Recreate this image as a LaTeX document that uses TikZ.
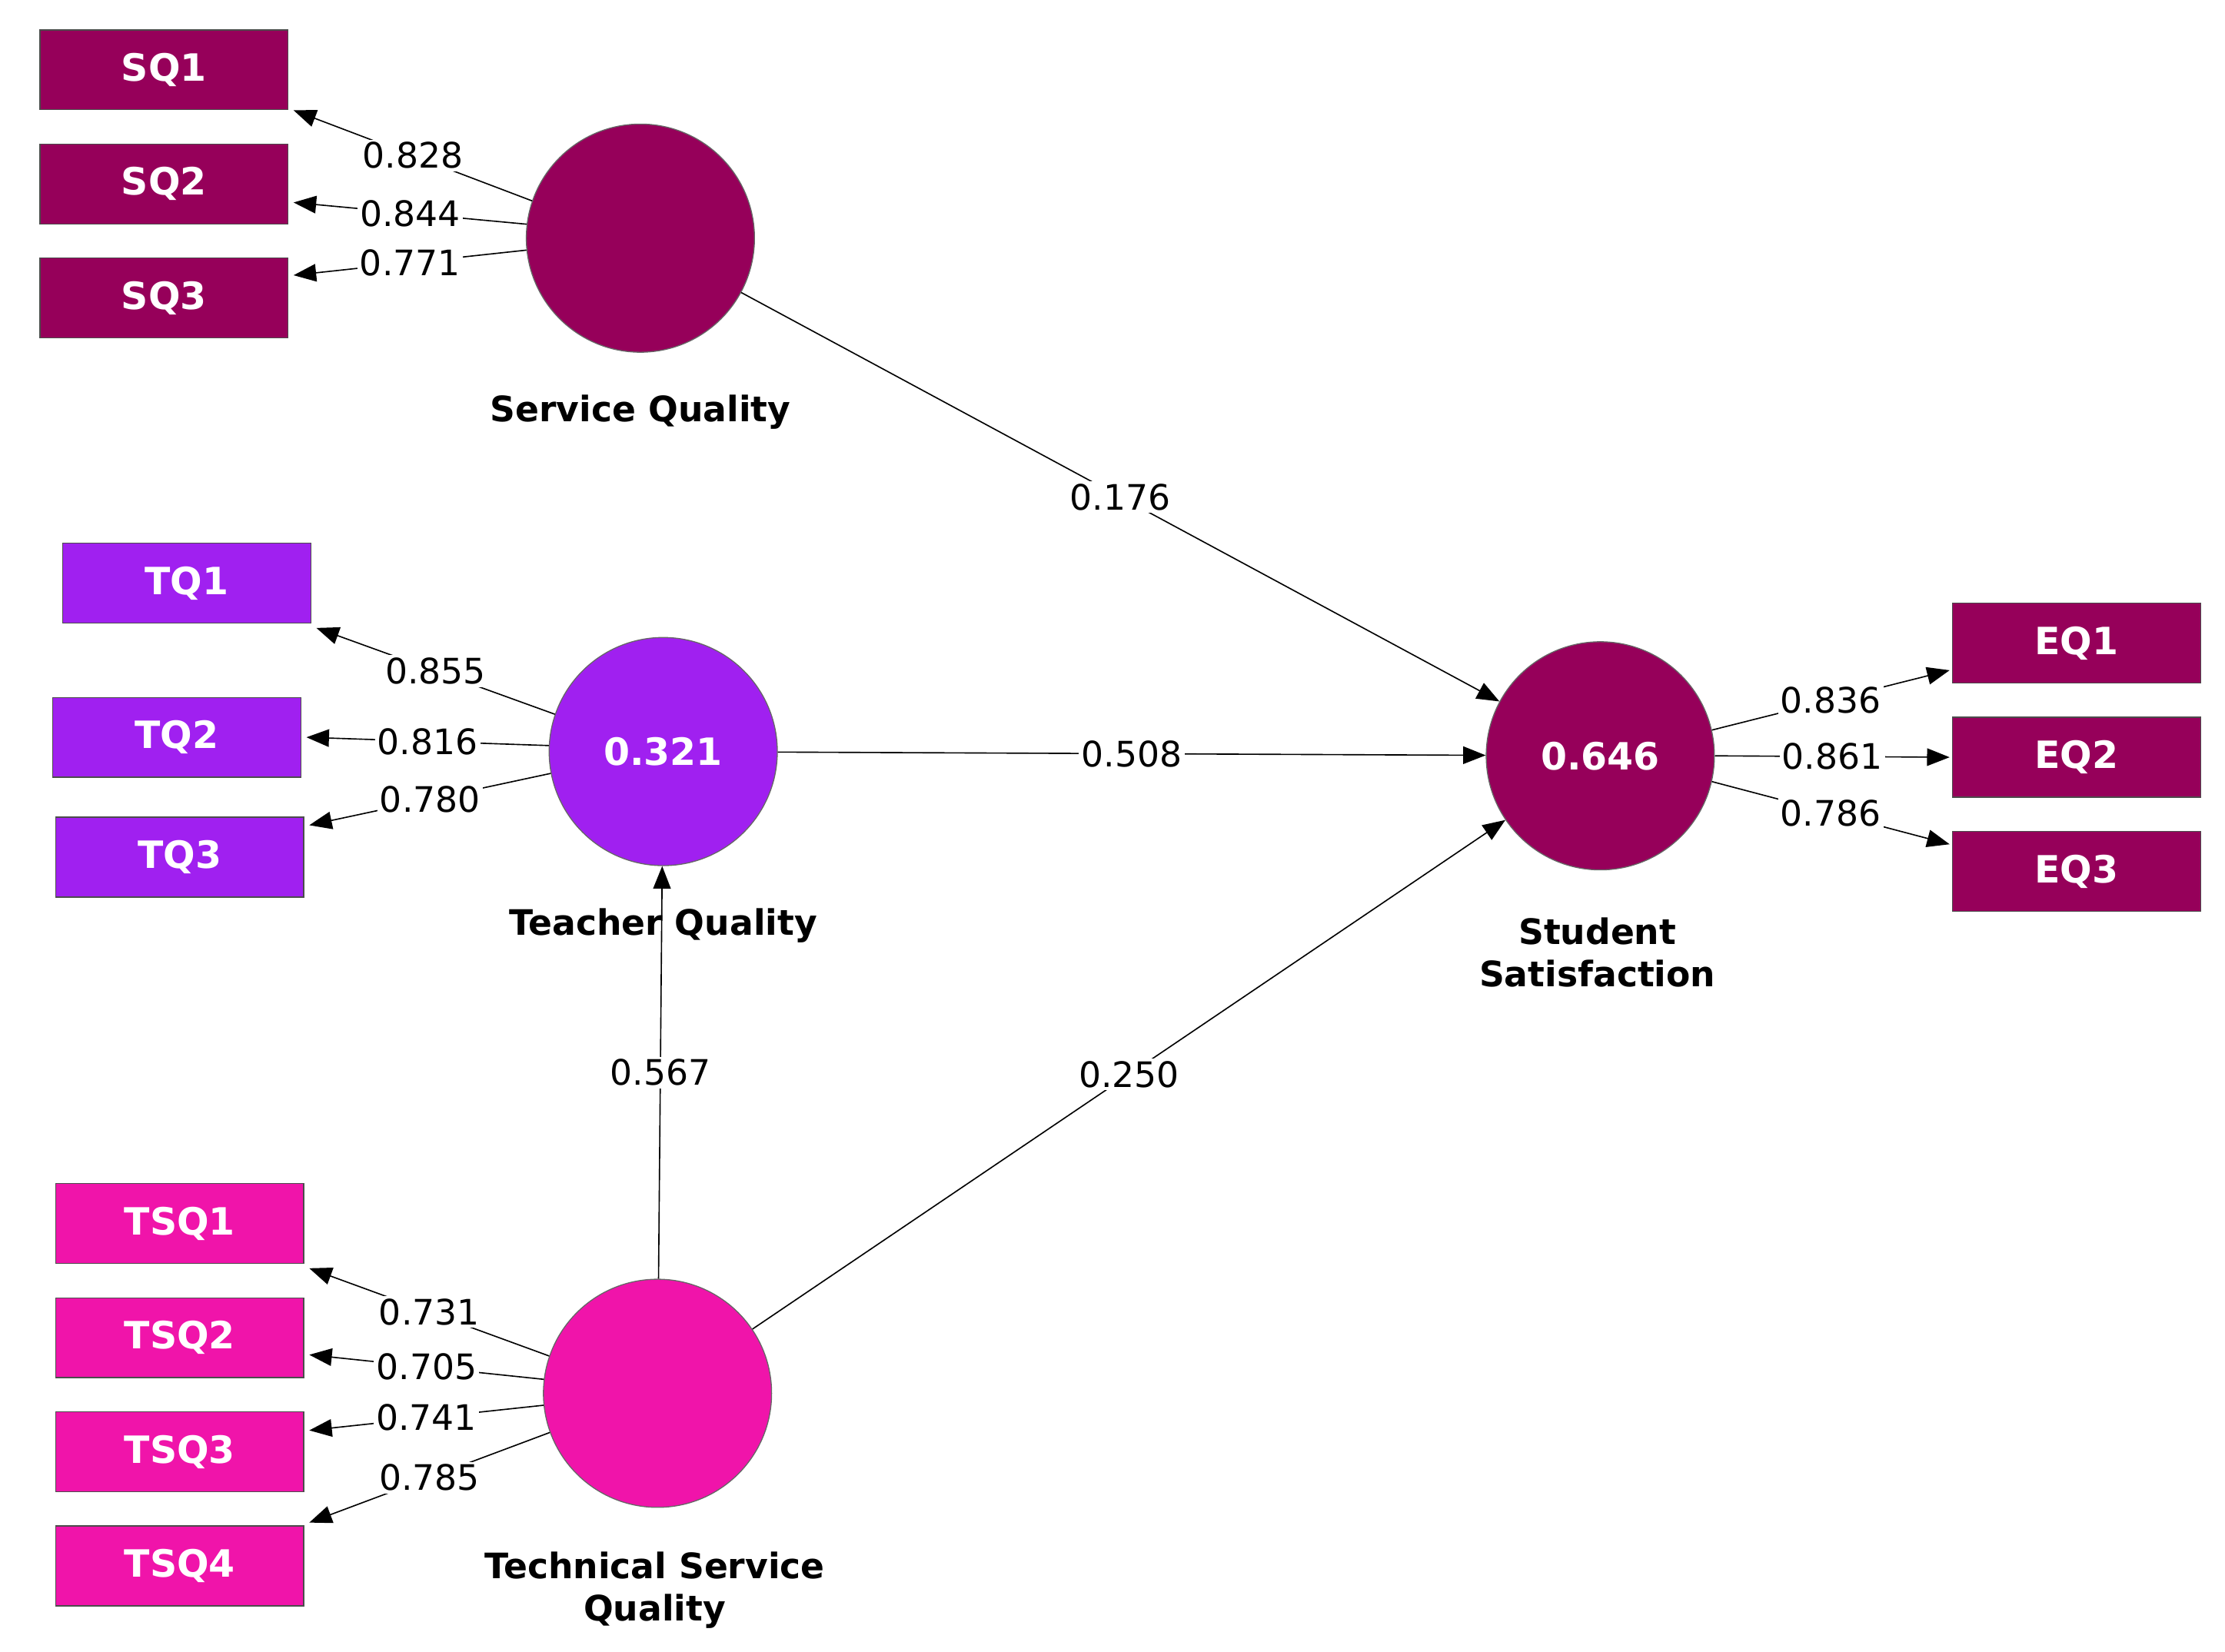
\documentclass[tikz,border=0pt]{standalone}
\usepackage{fontspec}
\setmainfont{DejaVu Sans}
\usetikzlibrary{arrows.meta}
\definecolor{mar}{RGB}{150,0,90}
\definecolor{pur}{RGB}{160,32,240}
\definecolor{pnk}{RGB}{240,20,170}
\begin{document}
\begin{tikzpicture}[x=0.02cm,y=-0.02cm,
 ind/.style={rectangle,draw=black!70,text=white,font=\fontsize{15}{15}\selectfont\bfseries,minimum width=3.48cm,minimum height=1.12cm,inner sep=0},
 lat/.style={circle,draw=black!60,text=white,font=\fontsize{15}{15}\selectfont\bfseries,minimum size=3.2cm,inner sep=0},
 nm/.style={font=\fontsize{14}{17}\selectfont\bfseries,align=center},
 lbl/.style={fill=white,inner sep=1pt,font=\fontsize{14}{14}\selectfont},
 ar/.style={-{Triangle[length=9pt,width=7pt]},line width=0.5pt}]
\useasboundingbox (0,0) rectangle (1560,1158);
\node[ind,fill=mar] (SQ1) at (115,49) {SQ1};
\node[ind,fill=mar] (SQ2) at (115,129) {SQ2};
\node[ind,fill=mar] (SQ3) at (115,209) {SQ3};
\node[ind,fill=pur] (TQ1) at (131,409) {TQ1};
\node[ind,fill=pur] (TQ2) at (124,517) {TQ2};
\node[ind,fill=pur] (TQ3) at (126,601) {TQ3};
\node[ind,fill=pnk] (TSQ1) at (126,858) {TSQ1};
\node[ind,fill=pnk] (TSQ2) at (126,938) {TSQ2};
\node[ind,fill=pnk] (TSQ3) at (126,1018) {TSQ3};
\node[ind,fill=pnk] (TSQ4) at (126,1098) {TSQ4};
\node[ind,fill=mar] (EQ1) at (1456,451) {EQ1};
\node[ind,fill=mar] (EQ2) at (1456,531) {EQ2};
\node[ind,fill=mar] (EQ3) at (1456,611) {EQ3};
\node[lat,fill=mar] (SQ) at (449,167) {};
\node[lat,fill=pur] (TQ) at (465,527) {0.321};
\node[lat,fill=pnk] (TSQ) at (461,977) {};
\node[lat,fill=mar] (SS) at (1122,530) {0.646};
\node[nm] (nSQ) at (449,289) {Service Quality};
\node[nm] (nTQ) at (465,649) {Teacher Quality};
\node[nm] (nTSQ) at (459,1115) {Technical Service\\Quality};
\node[nm] (nSS) at (1120,668) {Student\\Satisfaction};
% outer loadings
\draw[ar] (SQ.161) -- node[lbl,pos=0.5]{0.828} ([xshift=2pt]SQ1.south east);
\draw[ar] (SQ.173) -- node[lbl,pos=0.5]{0.844} ([xshift=2pt,yshift=-0.26cm]SQ2.east);
\draw[ar] (SQ.186) -- node[lbl,pos=0.5]{0.771} ([xshift=2pt,yshift=0.32cm]SQ3.east);
\draw[ar] (TQ.161) -- node[lbl,pos=0.5]{0.855} ([xshift=2pt,yshift=-0.06cm]TQ1.south east);
\draw[ar] (TQ.177) -- node[lbl,pos=0.5]{0.816} ([xshift=2pt]TQ2.east);
\draw[ar] (TQ.191) -- node[lbl,pos=0.5]{0.780} ([xshift=2pt,yshift=-0.12cm]TQ3.north east);
\draw[ar] (TSQ.161) -- node[lbl,pos=0.5]{0.731} ([xshift=2pt,yshift=-0.06cm]TSQ1.south east);
\draw[ar] (TSQ.173) -- node[lbl,pos=0.5]{0.705} ([xshift=2pt,yshift=-0.24cm]TSQ2.east);
\draw[ar] (TSQ.186) -- node[lbl,pos=0.5]{0.741} ([xshift=2pt,yshift=0.3cm]TSQ3.east);
\draw[ar] (TSQ.200) -- node[lbl,pos=0.5]{0.785} ([xshift=2pt,yshift=0.04cm]TSQ4.north east);
\draw[ar] (SS.13) -- node[lbl,pos=0.5]{0.836} ([xshift=-1pt,yshift=-0.38cm]EQ1.west);
\draw[ar] (SS.0) -- node[lbl,pos=0.5]{0.861} ([xshift=-1pt]EQ2.west);
\draw[ar] (SS.347) -- node[lbl,pos=0.5]{0.786} ([xshift=-1pt,yshift=0.38cm]EQ3.west);
% paths
\draw[ar] (SQ) -- node[lbl,pos=0.5]{0.176} (SS);
\draw[ar] (TQ) -- node[lbl,pos=0.5]{0.508} (SS);
\draw[ar] (TSQ) -- node[lbl,pos=0.5]{0.567} (TQ);
\draw[ar] (TSQ) -- node[lbl,pos=0.5]{0.250} (SS);
\end{tikzpicture}
\end{document}
